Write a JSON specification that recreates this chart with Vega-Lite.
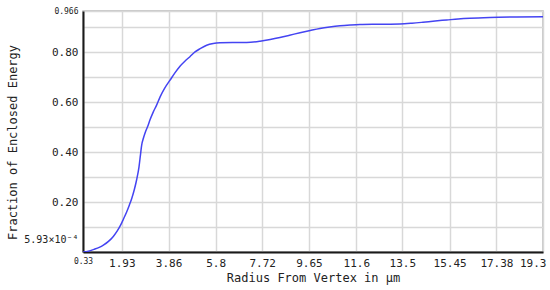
{
  "$schema": "https://vega.github.io/schema/vega-lite/v6.json",
  "width": 460,
  "height": 241,
  "autosize": {"type": "none"},
  "padding": {"left": 83, "top": 11, "right": 7, "bottom": 38},
  "background": "white",
  "config": {
    "view": {"stroke": "#b8b8b8", "strokeWidth": 1.5},
    "font": "DejaVu Sans Mono",
    "axis": {
      "labelFont": "DejaVu Sans Mono",
      "titleFont": "DejaVu Sans Mono",
      "labelColor": "#222",
      "titleColor": "#222",
      "grid": true,
      "gridColor": "#d8d8d8",
      "gridWidth": 1.5,
      "domainColor": "#1a1a1a",
      "domainWidth": 2,
      "ticks": false,
      "labelOverlap": false,
      "labelBound": false,
      "labelFlush": false
    }
  },
  "data": {
    "values": [
      {"r": 0.33, "f": 0.0006},
      {"r": 0.55, "f": 0.004},
      {"r": 0.78, "f": 0.011},
      {"r": 1.0, "f": 0.019},
      {"r": 1.17, "f": 0.028},
      {"r": 1.38, "f": 0.043},
      {"r": 1.58, "f": 0.063},
      {"r": 1.75, "f": 0.086},
      {"r": 1.88, "f": 0.108},
      {"r": 2.0, "f": 0.133},
      {"r": 2.13, "f": 0.161},
      {"r": 2.24, "f": 0.188},
      {"r": 2.34, "f": 0.215},
      {"r": 2.45, "f": 0.252},
      {"r": 2.54, "f": 0.289},
      {"r": 2.64, "f": 0.342},
      {"r": 2.7, "f": 0.39},
      {"r": 2.75, "f": 0.429},
      {"r": 2.82, "f": 0.456},
      {"r": 2.9, "f": 0.48},
      {"r": 3.02, "f": 0.509},
      {"r": 3.09, "f": 0.529},
      {"r": 3.23, "f": 0.562},
      {"r": 3.37, "f": 0.59},
      {"r": 3.51, "f": 0.622},
      {"r": 3.7, "f": 0.657},
      {"r": 3.92, "f": 0.689},
      {"r": 4.12, "f": 0.718},
      {"r": 4.33, "f": 0.745},
      {"r": 4.53, "f": 0.765},
      {"r": 4.74, "f": 0.783},
      {"r": 4.95, "f": 0.802},
      {"r": 5.16, "f": 0.815},
      {"r": 5.43, "f": 0.829},
      {"r": 5.7, "f": 0.836},
      {"r": 5.98, "f": 0.839},
      {"r": 6.5, "f": 0.84},
      {"r": 7.08, "f": 0.84},
      {"r": 7.63, "f": 0.845},
      {"r": 8.05, "f": 0.852},
      {"r": 8.45, "f": 0.86},
      {"r": 8.85, "f": 0.869},
      {"r": 9.28, "f": 0.879},
      {"r": 9.7, "f": 0.888},
      {"r": 10.1, "f": 0.896},
      {"r": 10.5, "f": 0.902},
      {"r": 10.93, "f": 0.907},
      {"r": 11.35, "f": 0.91},
      {"r": 11.75, "f": 0.912},
      {"r": 12.5, "f": 0.913},
      {"r": 13.4, "f": 0.914},
      {"r": 13.9, "f": 0.917},
      {"r": 14.35, "f": 0.921},
      {"r": 14.85, "f": 0.926},
      {"r": 15.33, "f": 0.93},
      {"r": 15.8, "f": 0.934},
      {"r": 16.29, "f": 0.937},
      {"r": 17.11, "f": 0.94},
      {"r": 18.2, "f": 0.942},
      {"r": 19.3, "f": 0.943}
    ]
  },
  "mark": {"type": "line", "color": "#4444f2", "strokeWidth": 1.5, "interpolate": "monotone", "clip": true},
  "encoding": {
    "x": {
      "field": "r",
      "type": "quantitative",
      "scale": {"domain": [0.33, 19.3], "nice": false, "zero": false},
      "axis": {
        "title": "Radius From Vertex in µm",
        "titleFontSize": 12,
        "titleFontWeight": "normal",
        "titlePadding": 4,
        "values": [0.33, 1.93, 3.86, 5.8, 7.72, 9.65, 11.6, 13.5, 15.45, 17.38, 19.3],
        "labelExpr": "datum.value + ''",
        "labelFontSize": {"condition": {"test": "datum.value < 0.5", "value": 8}, "value": 11},
        "labelAlign": {"condition": {"test": "datum.value > 19", "value": "right"}, "value": "center"},
        "labelOffset": {"condition": {"test": "datum.value > 19", "value": 3}, "value": 0},
        "labelPadding": 5
      }
    },
    "y": {
      "field": "f",
      "type": "quantitative",
      "scale": {"domain": [0.000593, 0.966], "nice": false, "zero": false},
      "axis": {
        "title": "Fraction of Enclosed Energy",
        "titleFontSize": 12,
        "titleFontWeight": "normal",
        "titleX": -71,
        "titleY": 131,
        "titleAngle": -90,
        "titleAlign": "center",
        "titleBaseline": "middle",
        "values": [0.000593, 0.1, 0.2, 0.3, 0.4, 0.5, 0.6, 0.7, 0.8, 0.9, 0.966],
        "labelExpr": "datum.value < 0.01 ? '5.93×10⁻⁴' : datum.value > 0.95 ? '0.966' : (round(datum.value * 10) % 2 == 0 ? format(datum.value, '.2f') : '')",
        "labelFontSize": {"condition": [{"test": "datum.value > 0.95", "value": 8}, {"test": "datum.value < 0.01", "value": 10}], "value": 11},
        "labelPadding": 5,
        "labelOffset": {"condition": {"test": "datum.value < 0.01", "value": -13}, "value": 0}
      }
    }
  }
}
